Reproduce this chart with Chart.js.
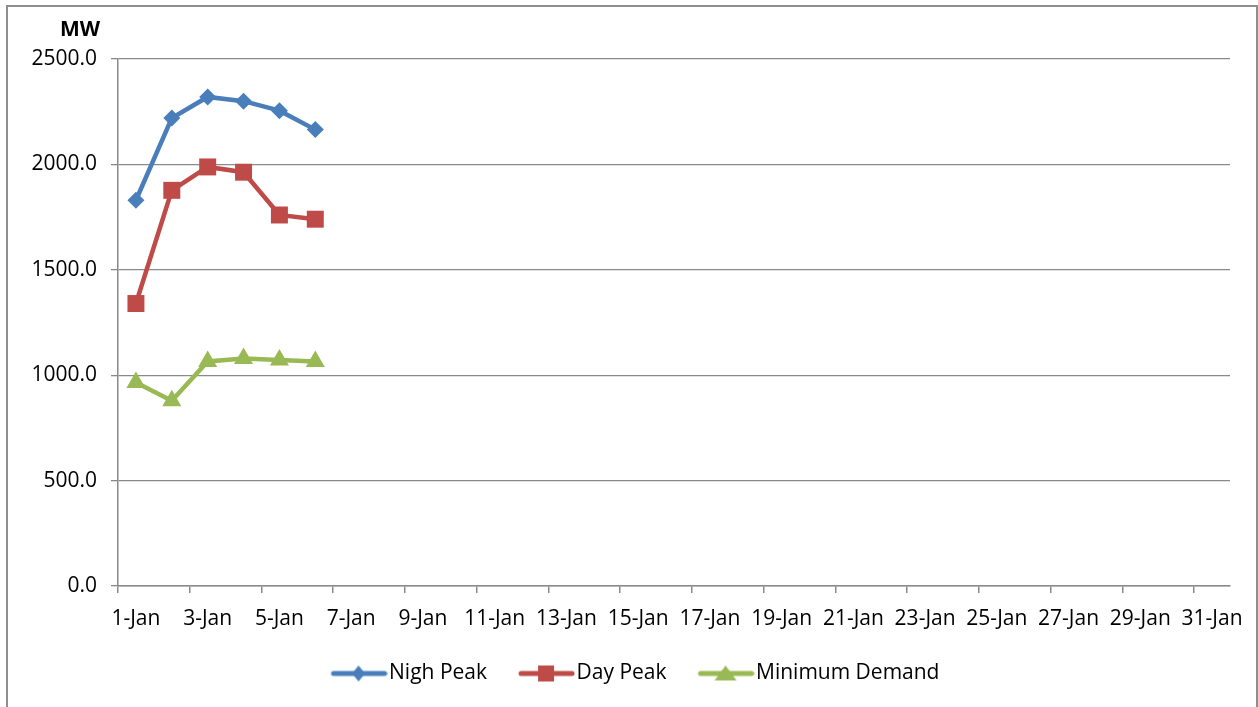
<!DOCTYPE html>
<html>
<head>
<meta charset="utf-8">
<script src="https://cdn.jsdelivr.net/npm/chart.js@4.4.1/dist/chart.umd.min.js"></script>
<style>
  html, body { margin: 0; padding: 0; background: #fff; overflow: hidden; }
  #chart { position: absolute; left: 0; top: 0; }
  #frame { position: absolute; left: 6px; top: 5px; width: 1252px; height: 730px;
           border: 2px solid #8e8e8e; box-sizing: border-box; pointer-events: none; }
</style>
</head>
<body>
<canvas id="chart" width="1258" height="707"></canvas>
<div id="frame"></div>
<script>
// categories (days of January)
const days = ['1-Jan', '2-Jan', '3-Jan', '4-Jan', '5-Jan', '6-Jan', '7-Jan', '8-Jan',
  '9-Jan', '10-Jan', '11-Jan', '12-Jan', '13-Jan', '14-Jan', '15-Jan', '16-Jan',
  '17-Jan', '18-Jan', '19-Jan', '20-Jan', '21-Jan', '22-Jan', '23-Jan', '24-Jan',
  '25-Jan', '26-Jan', '27-Jan', '28-Jan', '29-Jan', '30-Jan', '31-Jan'];

// series values (MW), only the first days are filled in
const nighPeak = [1830, 2220, 2320, 2300, 2255, 2165];
const dayPeak = [1340, 1877, 1988, 1963, 1760, 1740];
const minDemand = [965, 879, 1065, 1079, 1072, 1065];

const seriesNames = ['Nigh Peak', 'Day Peak', 'Minimum Demand'];
const yTicks = [0, 500, 1000, 1500, 2000, 2500];

const BLUE = '#4a7ebb';
const RED = '#be4b48';
const GREEN = '#98b954';
const AXIS = '#8a8a8a';
const FONT = 'Open Sans';

// legend icon: a short line with the marker in the middle
function legendIcon(color, shape) {
  const c = document.createElement('canvas');
  c.width = 58; c.height = 22;
  const g = c.getContext('2d');
  g.strokeStyle = color;
  g.fillStyle = color;
  g.lineWidth = 5;
  g.lineCap = 'round';
  g.beginPath();
  g.moveTo(4, 11);
  g.lineTo(55, 11);
  g.stroke();
  g.beginPath();
  if (shape === 'diamond') {
    g.moveTo(29, 3); g.lineTo(35.5, 11); g.lineTo(29, 19); g.lineTo(22.5, 11);
  } else if (shape === 'square') {
    g.rect(21, 3, 16, 16);
  } else {
    g.moveTo(29, 3); g.lineTo(40, 18); g.lineTo(18, 18);
  }
  g.closePath();
  g.fill();
  return c;
}

const icons = [legendIcon(BLUE, 'diamond'), legendIcon(RED, 'square'), legendIcon(GREEN, 'triangle')];

const mwLabel = {
  id: 'mwLabel',
  afterDraw(chart) {
    const ctx = chart.ctx;
    ctx.save();
    ctx.font = 'bold 21px "' + FONT + '"';
    ctx.fillStyle = '#000';
    ctx.textAlign = 'right';
    ctx.textBaseline = 'middle';
    ctx.fillText('MW', 100, 30);
    ctx.restore();
  }
};

// the legend in the original sits a little right of centre and close under the axis labels
const legendShift = {
  id: 'legendShift',
  afterLayout(chart) {
    const lg = chart.legend;
    lg.left += 24;
    lg.right += 24;
    lg.top -= 13;
    lg.bottom -= 13;
  }
};

const ctx = document.getElementById('chart').getContext('2d');

new Chart(ctx, {
  type: 'line',
  data: {
    labels: days,
    datasets: [
      {
        label: seriesNames[0],
        data: nighPeak,
        borderColor: BLUE,
        backgroundColor: BLUE,
        borderWidth: 4.5,
        pointStyle: 'rectRot',
        pointRadius: 8.5,
        pointBorderWidth: 0,
        tension: 0,
      },
      {
        label: seriesNames[1],
        data: dayPeak,
        borderColor: RED,
        backgroundColor: RED,
        borderWidth: 4.5,
        pointStyle: 'rect',
        pointRadius: 12,
        pointBorderWidth: 0,
        tension: 0,
      },
      {
        label: seriesNames[2],
        data: minDemand,
        borderColor: GREEN,
        backgroundColor: GREEN,
        borderWidth: 4.5,
        pointStyle: 'triangle',
        pointRadius: 11,
        pointBorderWidth: 0,
        tension: 0,
      },
    ],
  },
  options: {
    responsive: false,
    animation: false,
    layout: { padding: { top: 59, right: 28, left: 0, bottom: 0 } },
    scales: {
      x: {
        type: 'category',
        offset: true,
        grid: {
          offset: true,
          drawOnChartArea: false,
          tickLength: 7,
          lineWidth: 1.5,
          color: (c) => (c.index % 2 === 0 ? AXIS : 'rgba(0,0,0,0)'),
        },
        border: { color: AXIS, width: 1.5 },
        ticks: {
          autoSkip: false,
          maxRotation: 0,
          padding: 13,
          color: '#000',
          font: { family: FONT, size: 21 },
          callback: (v, i) => (i % 2 === 0 ? days[i] : ''),
        },
        afterFit(scale) { scale.height = 51; },
      },
      y: {
        min: 0,
        max: 2500,
        afterBuildTicks(scale) { scale.ticks = yTicks.map((v) => ({ value: v })); },
        grid: { color: AXIS, lineWidth: 1.3, tickLength: 7 },
        border: { color: AXIS, width: 1.5 },
        ticks: {
          padding: 14,
          color: '#000',
          font: { family: FONT, size: 21 },
          callback: (v) => Number(v).toFixed(1),
        },
        afterFit(scale) { scale.width = 118; },
      },
    },
    plugins: {
      legend: {
        position: 'bottom',
        labels: {
          usePointStyle: true,
          pointStyleWidth: 40,
          boxHeight: 20,
          padding: 39,
          color: '#000',
          font: { family: FONT, size: 21 },
          generateLabels: (chart) => chart.data.datasets.map((ds, i) => ({
            text: ds.label,
            pointStyle: icons[i],
            fillStyle: ds.borderColor,
            strokeStyle: ds.borderColor,
            lineWidth: 0,
            hidden: false,
            datasetIndex: i,
          })),
        },
      },
      tooltip: { enabled: false },
    },
  },
  plugins: [mwLabel, legendShift],
});
</script>
</body>
</html>
